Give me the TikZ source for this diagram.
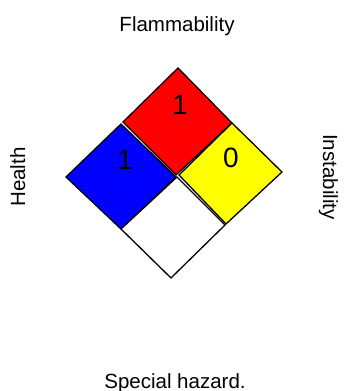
\documentclass[tikz,border=0pt]{standalone}
\usepackage{fontspec}
\setmainfont{Liberation Sans}
\begin{document}
\begin{tikzpicture}[x=1pt,y=-1pt,
  cell/.style={draw=black,line width=1.3pt,line join=miter},
  lbl/.style={font=\fontsize{20.5}{20.5}\selectfont,inner sep=0pt},
  num/.style={font=\fontsize{28}{28}\selectfont,inner sep=0pt}]
\useasboundingbox (0,0) rectangle (343,391);
\fill[white] (0,0) rectangle (343,391);
% cells
\filldraw[cell,fill={rgb,255:red,255;green,0;blue,0}] (178,68) -- (232,123) -- (176,175) -- (123,122) -- cycle;
\filldraw[cell,fill={rgb,255:red,0;green,0;blue,255}] (121,124) -- (176,177) -- (121,229) -- (66,177) -- cycle;
\filldraw[cell,fill={rgb,255:red,255;green,255;blue,0}] (232,123) -- (282,172) -- (226,224) -- (179,175) -- cycle;
\filldraw[cell,fill=white] (177,177) -- (225,225) -- (171,278) -- (121,229) -- cycle;
% numbers
\node[num] (nf) at (180,105) {1};
\node[num] (nh) at (125,160) {1};
\node[num] (ni) at (231,158) {0};
% labels
\node[lbl,anchor=base] (lf) at (177,31) {Flammability};
\node[lbl,anchor=base,rotate=90] (lh) at (25,177) {Health};
\node[lbl,anchor=base,rotate=-90] (li) at (323,177) {Instability};
\node[lbl,anchor=base] (ls) at (175,388) {Special hazard.};
\end{tikzpicture}
\end{document}
